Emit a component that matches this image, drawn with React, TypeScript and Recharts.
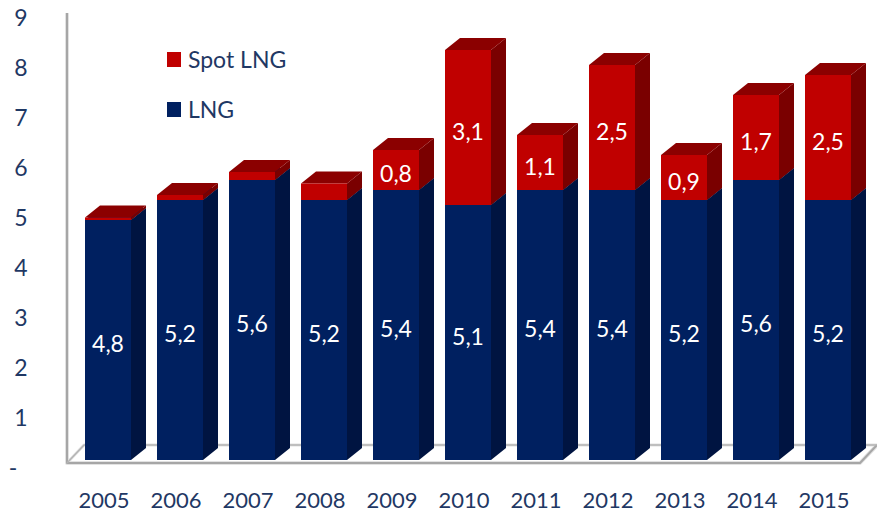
import React from 'react';
import { BarChart, Bar, XAxis, YAxis, Legend, LabelList } from 'recharts';

const years = ['2005', '2006', '2007', '2008', '2009', '2010', '2011', '2012', '2013', '2014', '2015'];
const lngValues = [4.8, 5.2, 5.6, 5.2, 5.4, 5.1, 5.4, 5.4, 5.2, 5.6, 5.2];
const spotValues = [0.05, 0.1, 0.16, 0.33, 0.8, 3.1, 1.1, 2.5, 0.9, 1.7, 2.5];
const yTicks = [0, 1, 2, 3, 4, 5, 6, 7, 8, 9];

const data = years.map((year, i) => ({ year, lng: lngValues[i], spot: spotValues[i] }));

const FONT = 'Lato, "Open Sans", sans-serif';
const TEXT = '#1F3864';
const BLUE = { front: '#002060', side: '#001441', top: '#001850' };
const RED = { front: '#C00000', side: '#7A0000', top: '#8B0000' };
const DX = 15;
const DY = 12;

// 3d-ish box: front face, right side and top
const boxShape = (c: { front: string; side: string; top: string }) => (props: any) => {
  const { x, y, width, height } = props;
  if (!height || height <= 0) return null;
  const r = x + width;
  const b = y + height;
  return (
    <g>
      <polygon points={`${r},${y} ${r + DX},${y - DY} ${r + DX},${b - DY} ${r},${b}`} fill={c.side} />
      <polygon points={`${x},${y} ${x + DX},${y - DY} ${r + DX},${y - DY} ${r},${y}`} fill={c.top} />
      <rect x={x} y={y} width={width} height={height} fill={c.front} />
    </g>
  );
};

const fmt = (v: number) => v.toFixed(1).replace('.', ',');

const valueLabel = (min: number) => (props: any) => {
  const { x, y, width, height, value } = props;
  if (value < min) return null;
  return (
    <text x={x + width / 2} y={y + height / 2 + 12} textAnchor="middle" fill="#fff" fontSize={23} fontFamily={FONT}>
      {fmt(value)}
    </text>
  );
};

const YTick = (props: any) => {
  const { y, payload } = props;
  const isZero = payload.value === 0;
  return (
    <text x={isZero ? 13 : 21} y={y + 16} textAnchor="middle" fill={TEXT} fontSize={23} fontFamily={FONT}>
      {isZero ? '-' : payload.value}
    </text>
  );
};

const XTick = (props: any) => {
  const { x, y, payload } = props;
  return (
    <text x={x - 4} y={y + 48} textAnchor="middle" fill={TEXT} fontSize={22} fontFamily={FONT}>
      {payload.value}
    </text>
  );
};

const LegendBox = (props: any) => {
  const items = [...(props.payload || [])].reverse();
  return (
    <svg width={140} height={90} style={{ display: 'block' }}>
      {items.map((it: any, i: number) => (
        <g key={it.value} transform={`translate(0, ${i * 50})`}>
          <rect x={0} y={7} width={14} height={15} fill={it.color} />
          <text x={21} y={23} fill={TEXT} fontSize={23} fontFamily={FONT}>
            {it.value}
          </text>
        </g>
      ))}
    </svg>
  );
};

// floor + left wall lines (decoration)
const Frame = () => (
  <svg width={877} height={516} style={{ position: 'absolute', left: 0, top: 0 }}>
    <g fill="none" strokeLinejoin="round">
      <polyline points="67,13 67,463 860,463 877,445" stroke="#e2e2e2" strokeWidth={4} />
      <polyline points="67,463 84,445 877,445" stroke="#e2e2e2" strokeWidth={3} />
      <polyline points="67,13 67,463 860,463 877,445" stroke="#a6a6a6" strokeWidth={2} />
      <polyline points="67,463 84,445 877,445" stroke="#b4b4b4" strokeWidth={1.5} />
    </g>
  </svg>
);

export default function App() {
  return (
    <div style={{ position: 'absolute', left: 0, top: 0, width: 877, height: 516, background: '#fff' }}>
      <Frame />
      <div style={{ position: 'absolute', left: 0, top: 0 }}>
        <BarChart width={877} height={516} data={data} margin={{ top: 10, right: 13, left: 0, bottom: 0 }}>
          <XAxis
            dataKey="year"
            height={56}
            axisLine={false}
            tickLine={false}
            tickSize={0}
            tickMargin={0}
            interval={0}
            tick={<XTick />}
          />
          <YAxis
            width={72}
            domain={[0, 9]}
            ticks={yTicks}
            axisLine={false}
            tickLine={false}
            tick={<YTick />}
          />
          <Legend
            layout="vertical"
            align="center"
            verticalAlign="middle"
            content={<LegendBox />}
            wrapperStyle={{ left: 167, top: 45, width: 140, height: 90 }}
          />
          <Bar dataKey="lng" name="LNG" stackId="a" fill={BLUE.front} barSize={46} shape={boxShape(BLUE)} isAnimationActive={false}>
            <LabelList dataKey="lng" content={valueLabel(0)} />
          </Bar>
          <Bar dataKey="spot" name="Spot LNG" stackId="a" fill={RED.front} barSize={46} shape={boxShape(RED)} isAnimationActive={false}>
            <LabelList dataKey="spot" content={valueLabel(0.8)} />
          </Bar>
        </BarChart>
      </div>
    </div>
  );
}
